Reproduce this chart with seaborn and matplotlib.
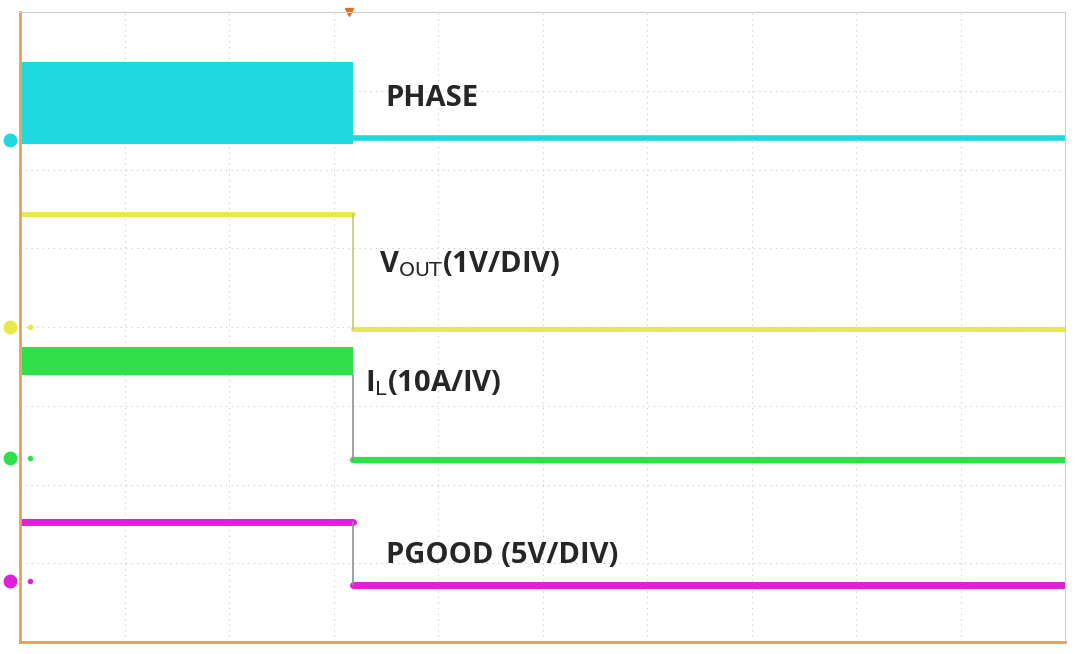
import matplotlib
matplotlib.use("Agg")
import matplotlib.pyplot as plt
import seaborn as sns
import numpy as np
import pandas as pd

# time in divisions, levels in divisions (scope screen: 10 x 8 div)
t_edge = 3.19
t_end = 10.0

phase_band = (2.32, 3.37)   # switching envelope before shutdown
phase_low = 2.40
vout_high, vout_low = 1.44, -0.03
il_band = (-0.61, -0.25)
il_low = -1.69
pgood_high, pgood_low = -2.48, -3.27
markers = [2.38, 0.0, -1.66, -3.22]

cyan, yellow, green, magenta = "#1fd8e0", "#e8e84a", "#2fe04a", "#e020d8"

sns.set_style("white")
fig = plt.figure(figsize=(10.8, 6.54), dpi=100)
ax = fig.add_axes([20 / 1080, 12 / 654, 1045 / 1080, 630 / 654])

def step(hi, lo, lw, color, edge_color, draw_hi=True):
    # horizontal levels thick, falling edge thin (as on the scope)
    t = [0, t_edge, np.nan, t_edge, t_end] if draw_hi else [np.nan, np.nan, np.nan, t_edge, t_end]
    df = pd.DataFrame({"t": t, "v": [hi, hi, np.nan, lo, lo]})
    ax.plot(df["t"], df["v"], color=color, lw=lw)
    ax.plot([t_edge, t_edge], [hi, lo], color=edge_color, lw=1.2)

# PHASE
ax.fill_between([0.02, t_edge], phase_band[0], phase_band[1], color=cyan, lw=0)
sns.lineplot(x=[t_edge, t_end], y=[phase_low, phase_low], ax=ax, color=cyan, lw=4)
# VOUT
step(vout_high, vout_low, 3.5, yellow, "#c8c870")
# IL
ax.fill_between([0.02, t_edge], il_band[0], il_band[1], color=green, lw=0)
step(il_band[0], il_low, 4.5, green, "#909090", draw_hi=False)
# PGOOD
step(pgood_high, pgood_low, 5, magenta, "#909090")

for y, c in zip(markers, [cyan, yellow, green, magenta]):
    ax.plot(-0.1, y, "o", color=c, ms=9, clip_on=False)
    ax.plot(0.1, y, "o", color=c, ms=3, clip_on=False)

labels = ["PHASE", "V$_{\\mathrm{OUT}}$(1V/DIV)", "I$_{\\mathrm{L}}$(10A/IV)", "PGOOD (5V/DIV)"]
label_pos = [(3.5, 2.9), (3.44, 0.8), (3.3, -0.72), (3.5, -2.9)]
for txt, (x, y) in zip(labels, label_pos):
    ax.text(x, y, txt, fontsize=21, fontweight="bold", va="center", family="Open Sans")

ax.set_xlim(0, 10)
ax.set_ylim(-4, 4)
for x in range(1, 10):
    ax.axvline(x, color="#c8c8c8", lw=0.8, ls=(0, (1, 4)), zorder=0)
for y in range(-3, 4):
    ax.axhline(y, color="#c8c8c8", lw=0.8, ls=(0, (1, 4)), zorder=0)
ax.set_xticks([])
ax.set_yticks([])
ax.set_xlabel("")
ax.set_ylabel("")
for s in ["left", "bottom"]:
    ax.spines[s].set_color("#e0a060")
    ax.spines[s].set_linewidth(2)
for s in ["top", "right"]:
    ax.spines[s].set_color("#d0d0d0")
ax.plot(3.15, 4, "v", color="#e07020", ms=6, clip_on=False)
fig.savefig("out.png", dpi=100)
